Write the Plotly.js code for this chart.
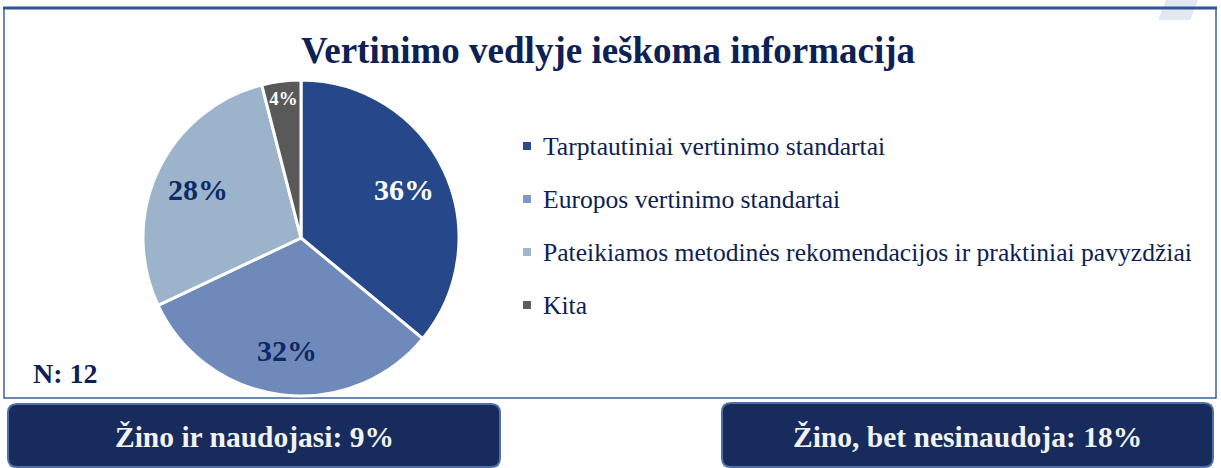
<!DOCTYPE html>
<html>
<head>
<meta charset="utf-8">
<script src="https://cdn.plot.ly/plotly-3.0.1.min.js"></script>
<style>
  html, body { margin: 0; padding: 0; background: #ffffff; }
  #chart { width: 1221px; height: 468px; }
</style>
</head>
<body>
<div id="chart"></div>
<script>
// ---- data ----
const chartTitle = "Vertinimo vedlyje ieškoma informacija";
const categories = [
  "Tarptautiniai vertinimo standartai",
  "Europos vertinimo standartai",
  "Pateikiamos metodinės rekomendacijos ir praktiniai pavyzdžiai",
  "Kita"
];
const shares = [36, 32, 28, 4];
const sampleNote = "N: 12";
const boxTexts = ["Žino ir naudojasi: 9%", "Žino, bet nesinaudoja: 18%"];

// ---- styles ----
const W = 1221, H = 468;
const px = x => x / W;
const py = y => 1 - y / H;
const sliceColors = ["#26478a", "#7089bb", "#9cb4cb", "#595959"];
const markerColors = ["#2a4a8c", "#7f97c8", "#9fb6cc", "#5e5e5e"];
const labelColors = ["#ffffff", "#0d2a66", "#0d2a66", "#ffffff"];
const navy = "#0d2154";
const serif = "'Liberation Serif', 'Times New Roman', serif";

// pie geometry (style)
const PIE_CX = 301, PIE_CY = 238, PIE_R = 158;
const LABEL_R = 0.72;     // radial position of large-slice labels
const SMALL_SLICE = 10;   // slices below this keep plotly's inside text

const trace = {
  type: "pie",
  labels: categories,
  values: shares,
  sort: false,
  direction: "clockwise",
  rotation: 0,
  text: shares.map(v => v < SMALL_SLICE ? v + "%" : ""),
  textinfo: "text",
  textposition: "inside",
  insidetextorientation: "horizontal",
  insidetextfont: { family: serif, size: 19, color: labelColors, weight: "bold" },
  marker: { colors: sliceColors, line: { color: "#ffffff", width: 3 } },
  domain: { x: [px(PIE_CX - PIE_R), px(PIE_CX + PIE_R)], y: [py(PIE_CY + PIE_R), py(PIE_CY - PIE_R)] },
  showlegend: false,
  hoverinfo: "label+percent"
};

const shapes = [];
const annotations = [];

// frame
shapes.push({ type: "path", xref: "paper", yref: "paper", layer: "below",
  path: `M ${px(1166)} ${py(0)} L ${px(1198)} ${py(0)} L ${px(1190)} ${py(20)} L ${px(1158)} ${py(20)} Z`,
  fillcolor: "#e3e8f0", line: { width: 0 } });
shapes.push({ type: "rect", xref: "paper", yref: "paper", x0: px(4), x1: px(1216), y0: py(398), y1: py(8),
  line: { color: "#3d5f9e", width: 1.5 }, fillcolor: "rgba(0,0,0,0)", layer: "below" });
shapes.push({ type: "line", xref: "paper", yref: "paper", x0: px(3), x1: px(1217), y0: py(8), y1: py(8),
  line: { color: "#2f5597", width: 3 } });

// slice labels for the larger slices, placed along each slice's bisector
const total = shares.reduce((a, b) => a + b, 0);
let cum = 0;
shares.forEach((v, i) => {
  const theta = 2 * Math.PI * (cum + v / 2) / total;
  cum += v;
  if (v < SMALL_SLICE) return;
  const x = PIE_CX + LABEL_R * PIE_R * Math.sin(theta);
  const y = PIE_CY - LABEL_R * PIE_R * Math.cos(theta);
  annotations.push({ xref: "paper", yref: "paper", x: px(x), y: py(y), xanchor: "center", yanchor: "middle",
    showarrow: false, text: "<b>" + v + "%</b>", font: { family: serif, size: 30, color: labelColors[i] } });
});

// legend (manual, built from categories)
const legendY = [146, 199, 252, 305];
categories.forEach((c, i) => {
  shapes.push({ type: "rect", xref: "paper", yref: "paper",
    x0: px(523), x1: px(531), y0: py(legendY[i] + 4), y1: py(legendY[i] - 4),
    fillcolor: markerColors[i], line: { width: 0 } });
  annotations.push({ xref: "paper", yref: "paper", x: px(541), y: py(legendY[i]),
    xanchor: "left", yanchor: "middle", showarrow: false, text: c,
    font: { family: serif, size: 25.6, color: navy } });
});

// N note
annotations.push({ xref: "paper", yref: "paper", x: px(31), y: py(373), xanchor: "left", yanchor: "middle",
  showarrow: false, text: "<b>" + sampleNote + "</b>", font: { family: serif, size: 28, color: navy } });

// bottom boxes
function roundRect(x0, y0, x1, y1, r) {
  const rx = r / W, ry = r / H;
  const X0 = px(x0), X1 = px(x1), Y0 = py(y0), Y1 = py(y1);
  return `M ${X0 + rx} ${Y0} L ${X1 - rx} ${Y0} Q ${X1} ${Y0} ${X1} ${Y0 - ry} ` +
         `L ${X1} ${Y1 + ry} Q ${X1} ${Y1} ${X1 - rx} ${Y1} L ${X0 + rx} ${Y1} ` +
         `Q ${X0} ${Y1} ${X0} ${Y1 + ry} L ${X0} ${Y0 - ry} Q ${X0} ${Y0} ${X0 + rx} ${Y0} Z`;
}
const boxes = [[8, 404, 500, 467], [722, 403, 1213, 467]];
boxes.forEach((b, i) => {
  shapes.push({ type: "path", xref: "paper", yref: "paper", path: roundRect(b[0], b[1], b[2], b[3], 9),
    fillcolor: "#172c5c", line: { color: "#4f6fa6", width: 2 } });
  annotations.push({ xref: "paper", yref: "paper", x: px((b[0] + b[2]) / 2), y: py(437),
    xanchor: "center", yanchor: "middle", showarrow: false, text: "<b>" + boxTexts[i] + "</b>",
    font: { family: serif, size: 29.5, color: "#f2f2f2" } });
});

const layout = {
  width: W, height: H,
  margin: { l: 0, r: 0, t: 0, b: 0 },
  paper_bgcolor: "#ffffff",
  title: { text: "<b>" + chartTitle + "</b>", x: px(608), xanchor: "center", y: py(50), yanchor: "middle",
    font: { family: serif, size: 37, color: navy } },
  shapes: shapes,
  annotations: annotations,
  showlegend: false
};

Plotly.newPlot("chart", [trace], layout, { displayModeBar: false, staticPlot: true });
</script>
</body>
</html>
